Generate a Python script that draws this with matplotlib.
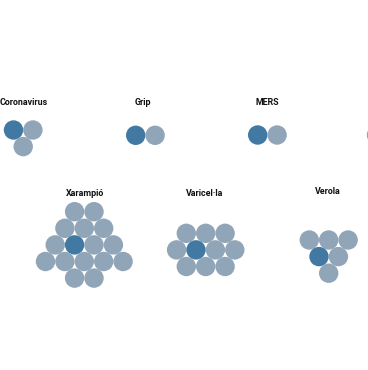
import matplotlib
matplotlib.use("Agg")
import matplotlib.pyplot as plt
from matplotlib.patches import Circle
from matplotlib import font_manager

# ---- data ----
diseases = ["Coronavirus", "Grip", "MERS", "Xarampió", "Varicel·la", "Verola", ""]
infected = [2, 1, 1, 15, 9, 5, 0]          # people infected by one carrier (light circles)
# row structure of each cluster (counts per row, top to bottom)
row_counts = [[2, 1], [2], [2], [2, 3, 4, 5, 2], [3, 4, 3], [3, 2, 1], [1]]
carrier_pos = [(0, 0), (0, 0), (0, 0), (2, 1), (1, 1), (1, 0), None]  # (row, index) of dark circle

# ---- layout (pixels) ----
centers_x = [23.2, 145.4, 267.4, 84.3, 205.7, 328.7, 376.5]
title_x = [24.0, 142.5, 267.0, 85.0, 205.0, 327.5, 390.0]
first_row_y = [130.0, 135.3, 135.0, 211.7, 233.3, 240.0, 135.0]
title_y = [102.5, 102.5, 102.5, 193.5, 193.0, 192.0, 102.5]

D = 19.4          # circle spacing
DY = 16.6         # row spacing
R = 9.7
DARK = "#4279a3"
LIGHT = "#90a5b8"

W, H = 368, 370
fig = plt.figure(figsize=(W / 100, H / 100), dpi=100)
ax = fig.add_axes([0, 0, 1, 1])
ax.set_xlim(0, W)
ax.set_ylim(H, 0)
ax.set_aspect("equal")
ax.axis("off")

fams = [f.name for f in font_manager.fontManager.ttflist]
family = "Liberation Sans Narrow" if "Liberation Sans Narrow" in fams else "Roboto"

for name, n_inf, rows, cpos, cx, tx, y0, ty in zip(diseases, infected, row_counts, carrier_pos,
                                                    centers_x, title_x, first_row_y, title_y):
    if name:
        ax.text(tx, ty, name, ha="center", va="center", fontsize=6.4,
                fontweight="bold", family=family, color="#111111")
    for r, n in enumerate(rows):
        y = y0 + r * DY
        for i in range(n):
            x = cx + (i - (n - 1) / 2) * D
            col = DARK if cpos is not None and (r, i) == cpos else LIGHT
            ax.add_patch(Circle((x, y), R, facecolor=col, edgecolor="none"))

fig.savefig("out.png", dpi=100, facecolor="white")
